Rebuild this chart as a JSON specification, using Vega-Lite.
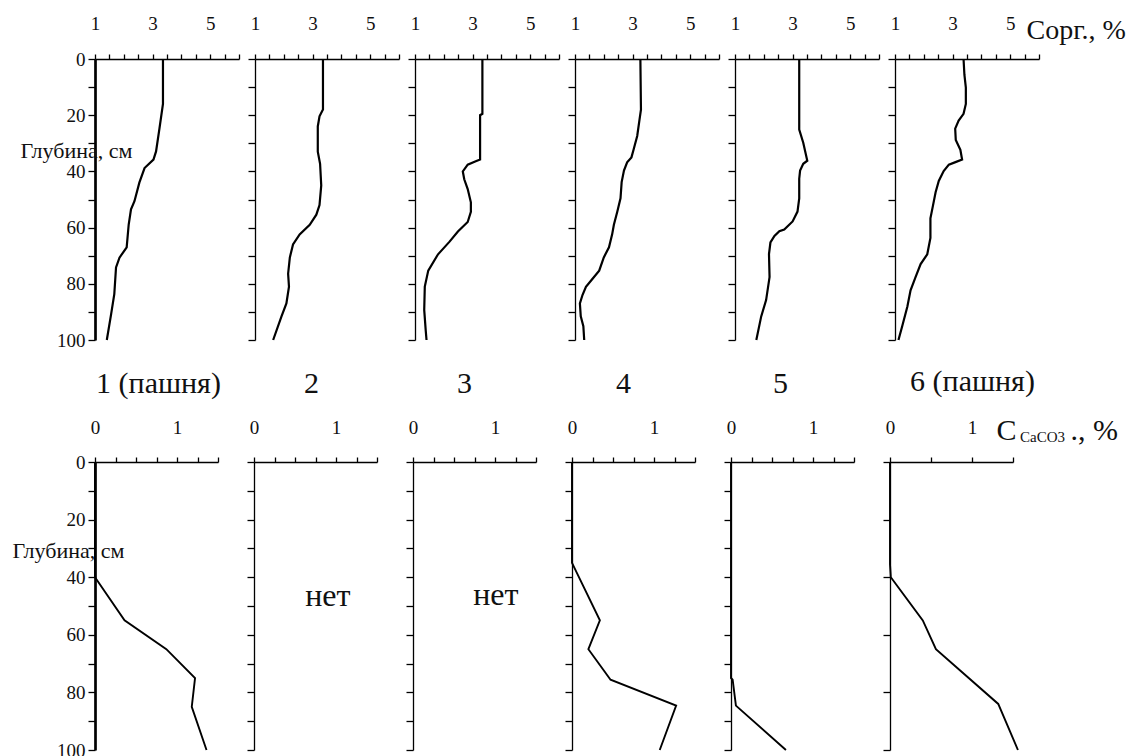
{
  "$schema": "https://vega.github.io/schema/vega-lite/v6.json",
  "background": "white",
  "padding": {"left": 12, "top": 14, "right": 5, "bottom": 0},
  "datasets": {
    "corg": [
      {"site":1,"depth":0,"value":3.36},{"site":1,"depth":16,"value":3.36},{"site":1,"depth":24.6,"value":3.24},{"site":1,"depth":32.9,"value":3.12},{"site":1,"depth":35.8,"value":3.03},{"site":1,"depth":38.8,"value":2.72},{"site":1,"depth":44,"value":2.54},{"site":1,"depth":50.6,"value":2.37},{"site":1,"depth":53.5,"value":2.25},{"site":1,"depth":58.9,"value":2.17},{"site":1,"depth":67,"value":2.1},{"site":1,"depth":70.7,"value":1.85},{"site":1,"depth":74.2,"value":1.73},{"site":1,"depth":83.7,"value":1.67},{"site":1,"depth":90.8,"value":1.56},{"site":1,"depth":100,"value":1.41},
      {"site":2,"depth":0,"value":3.36},{"site":2,"depth":18,"value":3.36},{"site":2,"depth":20.4,"value":3.24},{"site":2,"depth":24,"value":3.18},{"site":2,"depth":33,"value":3.18},{"site":2,"depth":37.3,"value":3.26},{"site":2,"depth":45,"value":3.3},{"site":2,"depth":52,"value":3.24},{"site":2,"depth":55.4,"value":3.13},{"site":2,"depth":59,"value":2.9},{"site":2,"depth":62.4,"value":2.55},{"site":2,"depth":66,"value":2.32},{"site":2,"depth":70.6,"value":2.21},{"site":2,"depth":76.4,"value":2.15},{"site":2,"depth":81,"value":2.18},{"site":2,"depth":87,"value":2.09},{"site":2,"depth":91.6,"value":1.92},{"site":2,"depth":100,"value":1.63},
      {"site":3,"depth":0,"value":3.34},{"site":3,"depth":19.5,"value":3.34},{"site":3,"depth":20,"value":3.26},{"site":3,"depth":35.8,"value":3.26},{"site":3,"depth":36.4,"value":3.11},{"site":3,"depth":37.6,"value":2.83},{"site":3,"depth":40,"value":2.66},{"site":3,"depth":42.8,"value":2.71},{"site":3,"depth":46.3,"value":2.83},{"site":3,"depth":51,"value":2.94},{"site":3,"depth":54.4,"value":2.94},{"site":3,"depth":58,"value":2.83},{"site":3,"depth":61.4,"value":2.49},{"site":3,"depth":65,"value":2.2},{"site":3,"depth":69.5,"value":1.8},{"site":3,"depth":75.3,"value":1.46},{"site":3,"depth":81,"value":1.34},{"site":3,"depth":89.3,"value":1.32},{"site":3,"depth":96.3,"value":1.37},{"site":3,"depth":100,"value":1.4},
      {"site":4,"depth":0,"value":3.27},{"site":4,"depth":18,"value":3.29},{"site":4,"depth":21.6,"value":3.24},{"site":4,"depth":27.4,"value":3.16},{"site":4,"depth":32,"value":3.04},{"site":4,"depth":35,"value":2.96},{"site":4,"depth":36.8,"value":2.81},{"site":4,"depth":39.7,"value":2.7},{"site":4,"depth":43.8,"value":2.62},{"site":4,"depth":49.6,"value":2.58},{"site":4,"depth":54.3,"value":2.47},{"site":4,"depth":59,"value":2.35},{"site":4,"depth":62.4,"value":2.29},{"site":4,"depth":67,"value":2.18},{"site":4,"depth":70.6,"value":2.0},{"site":4,"depth":75.3,"value":1.84},{"site":4,"depth":78.2,"value":1.61},{"site":4,"depth":81.1,"value":1.38},{"site":4,"depth":84,"value":1.26},{"site":4,"depth":87,"value":1.17},{"site":4,"depth":91.6,"value":1.2},{"site":4,"depth":95.1,"value":1.29},{"site":4,"depth":100,"value":1.32},
      {"site":5,"depth":0,"value":3.23},{"site":5,"depth":25.1,"value":3.23},{"site":5,"depth":29.8,"value":3.37},{"site":5,"depth":36.2,"value":3.51},{"site":5,"depth":37.3,"value":3.37},{"site":5,"depth":39.7,"value":3.26},{"site":5,"depth":42.6,"value":3.23},{"site":5,"depth":49.6,"value":3.23},{"site":5,"depth":54.3,"value":3.17},{"site":5,"depth":57.8,"value":3.0},{"site":5,"depth":60.7,"value":2.71},{"site":5,"depth":61.3,"value":2.54},{"site":5,"depth":63,"value":2.37},{"site":5,"depth":65.3,"value":2.23},{"site":5,"depth":69.4,"value":2.18},{"site":5,"depth":77.6,"value":2.2},{"site":5,"depth":85.8,"value":2.08},{"site":5,"depth":91.6,"value":1.91},{"site":5,"depth":100,"value":1.74},
      {"site":6,"depth":0,"value":3.38},{"site":6,"depth":5.6,"value":3.41},{"site":6,"depth":10.2,"value":3.46},{"site":6,"depth":16,"value":3.46},{"site":6,"depth":19.5,"value":3.38},{"site":6,"depth":21.9,"value":3.21},{"site":6,"depth":24.8,"value":3.09},{"site":6,"depth":28.8,"value":3.11},{"site":6,"depth":32.3,"value":3.27},{"site":6,"depth":35.8,"value":3.33},{"site":6,"depth":36.7,"value":3.1},{"site":6,"depth":37.6,"value":2.87},{"site":6,"depth":39.9,"value":2.69},{"site":6,"depth":43.4,"value":2.52},{"site":6,"depth":47.4,"value":2.41},{"site":6,"depth":52.1,"value":2.32},{"site":6,"depth":56.7,"value":2.23},{"site":6,"depth":63.7,"value":2.23},{"site":6,"depth":69.5,"value":2.12},{"site":6,"depth":73,"value":1.89},{"site":6,"depth":77.7,"value":1.71},{"site":6,"depth":82.3,"value":1.54},{"site":6,"depth":88.1,"value":1.43},{"site":6,"depth":95.1,"value":1.25},{"site":6,"depth":100,"value":1.12}
    ],
    "caco3": [
      {"site":1,"depth":0,"value":0},{"site":1,"depth":40,"value":0},{"site":1,"depth":55,"value":0.36},{"site":1,"depth":65,"value":0.87},{"site":1,"depth":75,"value":1.22},{"site":1,"depth":85,"value":1.18},{"site":1,"depth":100,"value":1.36},
      {"site":4,"depth":0,"value":0},{"site":4,"depth":35,"value":0},{"site":4,"depth":55,"value":0.34},{"site":4,"depth":65,"value":0.2},{"site":4,"depth":75.6,"value":0.47},{"site":4,"depth":84.6,"value":1.27},{"site":4,"depth":100,"value":1.07},
      {"site":5,"depth":0,"value":0},{"site":5,"depth":75,"value":0},{"site":5,"depth":75.6,"value":0.02},{"site":5,"depth":84.6,"value":0.06},{"site":5,"depth":100,"value":0.67},
      {"site":6,"depth":0,"value":0},{"site":6,"depth":35.5,"value":0},{"site":6,"depth":40,"value":0.01},{"site":6,"depth":55,"value":0.4},{"site":6,"depth":65,"value":0.56},{"site":6,"depth":73,"value":0.88},{"site":6,"depth":84,"value":1.32},{"site":6,"depth":100,"value":1.56}
    ],
    "net": [{"t":"нет"}],
    "cLabel": [{"t":"C"}],
    "subLabel": [{"t":"CaCO3"}],
    "pctLabel": [{"t":"., %"}]
  },
  "config": {
    "view": {"stroke": null},
    "font": "Liberation Serif",
    "axis": {"domainColor":"black","tickColor":"black","labelColor":"#111111","labelFont":"Liberation Serif","labelFontSize":19,"grid":false,"titleFont":"Liberation Serif","titleFontWeight":"normal","titleColor":"#111111","domainWidth":1.3,"tickWidth":1.3,"labelFlush":false,"labelOverlap":false,"format":"d"},
    "title": {"font":"Liberation Serif","fontSize":30,"fontWeight":"normal","color":"#111111","offset":19},
    "line": {"color":"black","strokeWidth":2.2,"clip":false},
    "text": {"font":"Liberation Serif","color":"#111111","clip":false}
  },
  "spacing": 17,
  "vconcat": [
    {
      "bounds": "flush",
      "spacing": 16,
      "hconcat": [
        {"width":144,"height":281,"data":{"name":"corg"},"transform":[{"filter":"datum.site == 1"}],"mark":"line",
         "encoding":{
          "x":{"field":"value","type":"quantitative","scale":{"domain":[1,6],"nice":false,"zero":false},"axis":{"orient":"top","values":[1,1.5,2,2.5,3,3.5,4,4.5,5,5.5,6],"labelExpr":"datum.value == 1 || datum.value == 3 || datum.value == 5 ? datum.label : ''","tickSize":5,"labelPadding":21,"title":null}},
          "y":{"field":"depth","type":"quantitative","scale":{"domain":[0,100],"reverse":true,"nice":false},"axis":{"values":[0,10,20,30,40,50,60,70,80,90,100],"labelExpr":"datum.value % 20 == 0 ? datum.label : ''","tickSize":7,"labelPadding":3,"domainWidth":2.7,"title":"Глубина, см","titleAngle":0,"titleAlign":"center","titleBaseline":"middle","titleX":-19,"titleY":91,"titleFontSize":22}},
          "order":{"field":"depth","type":"quantitative"}}},
        {"width":144,"height":281,"data":{"name":"corg"},"transform":[{"filter":"datum.site == 2"}],"mark":"line",
         "encoding":{
          "x":{"field":"value","type":"quantitative","scale":{"domain":[1,6],"nice":false,"zero":false},"axis":{"orient":"top","values":[1,1.5,2,2.5,3,3.5,4,4.5,5,5.5,6],"labelExpr":"datum.value == 1 || datum.value == 3 || datum.value == 5 ? datum.label : ''","tickSize":5,"labelPadding":21,"title":null}},
          "y":{"field":"depth","type":"quantitative","scale":{"domain":[0,100],"reverse":true,"nice":false},"axis":{"values":[0,10,20,30,40,50,60,70,80,90,100],"labels":false,"tickSize":7,"title":null}},
          "order":{"field":"depth","type":"quantitative"}}},
        {"width":144,"height":281,"data":{"name":"corg"},"transform":[{"filter":"datum.site == 3"}],"mark":"line",
         "encoding":{
          "x":{"field":"value","type":"quantitative","scale":{"domain":[1,6],"nice":false,"zero":false},"axis":{"orient":"top","values":[1,1.5,2,2.5,3,3.5,4,4.5,5,5.5,6],"labelExpr":"datum.value == 1 || datum.value == 3 || datum.value == 5 ? datum.label : ''","tickSize":5,"labelPadding":21,"title":null}},
          "y":{"field":"depth","type":"quantitative","scale":{"domain":[0,100],"reverse":true,"nice":false},"axis":{"values":[0,10,20,30,40,50,60,70,80,90,100],"labels":false,"tickSize":7,"title":null}},
          "order":{"field":"depth","type":"quantitative"}}},
        {"width":144,"height":281,"data":{"name":"corg"},"transform":[{"filter":"datum.site == 4"}],"mark":"line",
         "encoding":{
          "x":{"field":"value","type":"quantitative","scale":{"domain":[1,6],"nice":false,"zero":false},"axis":{"orient":"top","values":[1,1.5,2,2.5,3,3.5,4,4.5,5,5.5,6],"labelExpr":"datum.value == 1 || datum.value == 3 || datum.value == 5 ? datum.label : ''","tickSize":5,"labelPadding":21,"title":null}},
          "y":{"field":"depth","type":"quantitative","scale":{"domain":[0,100],"reverse":true,"nice":false},"axis":{"values":[0,10,20,30,40,50,60,70,80,90,100],"labels":false,"tickSize":7,"title":null}},
          "order":{"field":"depth","type":"quantitative"}}},
        {"width":144,"height":281,"data":{"name":"corg"},"transform":[{"filter":"datum.site == 5"}],"mark":"line",
         "encoding":{
          "x":{"field":"value","type":"quantitative","scale":{"domain":[1,6],"nice":false,"zero":false},"axis":{"orient":"top","values":[1,1.5,2,2.5,3,3.5,4,4.5,5,5.5,6],"labelExpr":"datum.value == 1 || datum.value == 3 || datum.value == 5 ? datum.label : ''","tickSize":5,"labelPadding":21,"title":null}},
          "y":{"field":"depth","type":"quantitative","scale":{"domain":[0,100],"reverse":true,"nice":false},"axis":{"values":[0,10,20,30,40,50,60,70,80,90,100],"labels":false,"tickSize":7,"title":null}},
          "order":{"field":"depth","type":"quantitative"}}},
        {"width":144,"height":281,"data":{"name":"corg"},"transform":[{"filter":"datum.site == 6"}],"mark":"line",
         "encoding":{
          "x":{"field":"value","type":"quantitative","scale":{"domain":[1,6],"nice":false,"zero":false},"axis":{"orient":"top","values":[1,1.5,2,2.5,3,3.5,4,4.5,5,5.5,6],"labelExpr":"datum.value == 1 || datum.value == 3 || datum.value == 5 ? datum.label : ''","tickSize":5,"labelPadding":21,"title":"Сорг., %","titleFontSize":28,"titleAlign":"left","titleBaseline":"alphabetic","titleX":131,"titleY":-21}},
          "y":{"field":"depth","type":"quantitative","scale":{"domain":[0,100],"reverse":true,"nice":false},"axis":{"values":[0,10,20,30,40,50,60,70,80,90,100],"labels":false,"tickSize":7,"title":null}},
          "order":{"field":"depth","type":"quantitative"}}}
      ]
    },
    {
      "bounds": "flush",
      "spacing": 36,
      "hconcat": [
        {"width":123,"height":288,"title":{"text":"1 (пашня)","dx":2},"data":{"name":"caco3"},"transform":[{"filter":"datum.site == 1"}],"mark":{"type":"line","strokeWidth":1.9},
         "encoding":{
          "x":{"field":"value","type":"quantitative","scale":{"domain":[0,1.5],"nice":false,"zero":false},"axis":{"orient":"top","values":[0,0.25,0.5,0.75,1,1.25,1.5],"labelExpr":"datum.value == 0 || datum.value == 1 ? datum.label : ''","tickSize":5,"labelPadding":20,"title":null}},
          "y":{"field":"depth","type":"quantitative","scale":{"domain":[0,100],"reverse":true,"nice":false},"axis":{"values":[0,10,20,30,40,50,60,70,80,90,100],"labelExpr":"datum.value % 20 == 0 ? datum.label : ''","tickSize":7,"labelPadding":3,"domainWidth":2.7,"title":"Глубина, см","titleAngle":0,"titleAlign":"center","titleBaseline":"middle","titleX":-27,"titleY":88,"titleFontSize":22}},
          "order":{"field":"depth","type":"quantitative"}}},
        {"width":123,"height":288,"title":{"text":"2","dx":-4},"data":{"name":"net"},"mark":{"type":"text","fontSize":32,"align":"center","baseline":"alphabetic"},
         "encoding":{
          "x":{"datum":0.9,"type":"quantitative","scale":{"domain":[0,1.5],"nice":false,"zero":false},"axis":{"orient":"top","values":[0,0.25,0.5,0.75,1,1.25,1.5],"labelExpr":"datum.value == 0 || datum.value == 1 ? datum.label : ''","tickSize":5,"labelPadding":20,"title":null}},
          "y":{"datum":50,"type":"quantitative","scale":{"domain":[0,100],"reverse":true,"nice":false},"axis":{"values":[0,10,20,30,40,50,60,70,80,90,100],"labels":false,"tickSize":7,"title":null}},
          "text":{"field":"t"}}},
        {"width":123,"height":288,"title":{"text":"3","dx":-10},"data":{"name":"net"},"mark":{"type":"text","fontSize":32,"align":"center","baseline":"alphabetic"},
         "encoding":{
          "x":{"datum":1.01,"type":"quantitative","scale":{"domain":[0,1.5],"nice":false,"zero":false},"axis":{"orient":"top","values":[0,0.25,0.5,0.75,1,1.25,1.5],"labelExpr":"datum.value == 0 || datum.value == 1 ? datum.label : ''","tickSize":5,"labelPadding":20,"title":null}},
          "y":{"datum":49.5,"type":"quantitative","scale":{"domain":[0,100],"reverse":true,"nice":false},"axis":{"values":[0,10,20,30,40,50,60,70,80,90,100],"labels":false,"tickSize":7,"title":null}},
          "text":{"field":"t"}}},
        {"width":123,"height":288,"title":{"text":"4","dx":-10},"data":{"name":"caco3"},"transform":[{"filter":"datum.site == 4"}],"mark":{"type":"line","strokeWidth":1.9},
         "encoding":{
          "x":{"field":"value","type":"quantitative","scale":{"domain":[0,1.5],"nice":false,"zero":false},"axis":{"orient":"top","values":[0,0.25,0.5,0.75,1,1.25,1.5],"labelExpr":"datum.value == 0 || datum.value == 1 ? datum.label : ''","tickSize":5,"labelPadding":20,"title":null}},
          "y":{"field":"depth","type":"quantitative","scale":{"domain":[0,100],"reverse":true,"nice":false},"axis":{"values":[0,10,20,30,40,50,60,70,80,90,100],"labels":false,"tickSize":7,"title":null}},
          "order":{"field":"depth","type":"quantitative"}}},
        {"width":123,"height":288,"title":{"text":"5","dx":-12},"data":{"name":"caco3"},"transform":[{"filter":"datum.site == 5"}],"mark":{"type":"line","strokeWidth":1.9},
         "encoding":{
          "x":{"field":"value","type":"quantitative","scale":{"domain":[0,1.5],"nice":false,"zero":false},"axis":{"orient":"top","values":[0,0.25,0.5,0.75,1,1.25,1.5],"labelExpr":"datum.value == 0 || datum.value == 1 ? datum.label : ''","tickSize":5,"labelPadding":20,"title":null}},
          "y":{"field":"depth","type":"quantitative","scale":{"domain":[0,100],"reverse":true,"nice":false},"axis":{"values":[0,10,20,30,40,50,60,70,80,90,100],"labels":false,"tickSize":7,"title":null}},
          "order":{"field":"depth","type":"quantitative"}}},
        {"width":123,"height":288,"title":{"text":"6 (пашня)","dx":21},
         "layer": [
          {"data":{"name":"caco3"},"transform":[{"filter":"datum.site == 6"}],"mark":{"type":"line","strokeWidth":1.9},
           "encoding":{
            "x":{"field":"value","type":"quantitative","scale":{"domain":[0,1.5],"nice":false,"zero":false},"axis":{"orient":"top","values":[0,0.25,0.5,0.75,1,1.25,1.5],"labelExpr":"datum.value == 0 || datum.value == 1 ? datum.label : ''","tickSize":5,"labelPadding":20,"title":null}},
            "y":{"field":"depth","type":"quantitative","scale":{"domain":[0,100],"reverse":true,"nice":false},"axis":{"values":[0,10,20,30,40,50,60,70,80,90,100],"labels":false,"tickSize":7,"title":null}},
            "order":{"field":"depth","type":"quantitative"}}},
          {"data":{"name":"cLabel"},"mark":{"type":"text","fontSize":30,"align":"left","baseline":"alphabetic"},
           "encoding":{"x":{"datum":1.3,"type":"quantitative"},"y":{"datum":-7.6,"type":"quantitative"},"text":{"field":"t"}}},
          {"data":{"name":"subLabel"},"mark":{"type":"text","fontSize":15,"align":"left","baseline":"alphabetic"},
           "encoding":{"x":{"datum":1.585,"type":"quantitative"},"y":{"datum":-6.9,"type":"quantitative"},"text":{"field":"t"}}},
          {"data":{"name":"pctLabel"},"mark":{"type":"text","fontSize":30,"align":"left","baseline":"alphabetic"},
           "encoding":{"x":{"datum":2.2,"type":"quantitative"},"y":{"datum":-7.6,"type":"quantitative"},"text":{"field":"t"}}}
         ]}
      ]
    }
  ]
}
